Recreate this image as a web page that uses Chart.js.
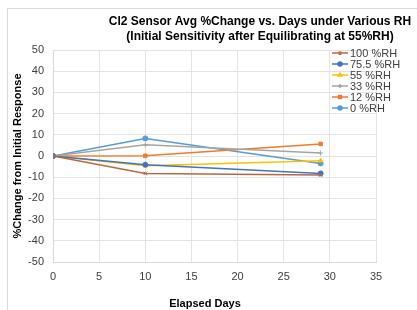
<!DOCTYPE html>
<html><head><meta charset="utf-8">
<script src="https://cdn.jsdelivr.net/npm/chart.js@4"></script>
<style>html,body{margin:0;padding:0;background:#fff}#wrap{width:417px;height:310px;position:relative}</style>
</head><body><div id="wrap"><canvas id="c" width="417" height="310"></canvas></div>
<script>
const days = [0, 10, 29];
const seriesNames = ["100 %RH", "75.5 %RH", "55 %RH", "33 %RH", "12 %RH", "0 %RH"];
const rh100 = [0, -8.2, -9.0];
const rh75 = [0, -4.1, -8.2];
const rh55 = [0, -4.6, -2.2];
const rh33 = [0, 5.3, 1.4];
const rh12 = [0, 0.1, 5.7];
const rh0 = [0, 8.3, -3.5];
const xTicks = [0, 5, 10, 15, 20, 25, 30, 35];
const yTicks = [50, 40, 30, 20, 10, 0, -10, -20, -30, -40, -50];
const titleLines = ["Cl2 Sensor Avg %Change vs. Days under Various RH", "(Initial Sensitivity after Equilibrating at 55%RH)"];
const xTitle = "Elapsed Days";
const yTitle = "%Change from Initial Response";

const colors = ["#B8683F", "#4472C4", "#FFC000", "#A5A5A5", "#ED7D31", "#5B9BD5"];
const markers = ["crossRot", "circle", "triangle", "cross", "rect", "circle"];
const values = [rh100, rh75, rh55, rh33, rh12, rh0];

const datasets = seriesNames.map((n, i) => ({
  label: n,
  data: days.map((d, j) => ({x: d, y: values[i][j]})),
  borderColor: colors[i],
  backgroundColor: colors[i],
  borderWidth: 1.5,
  pointStyle: markers[i],
  pointRadius: 2.5,
  pointBorderWidth: 1,
  showLine: true,
  tension: 0
}));

const FONT = "'Liberation Sans', Arial, sans-serif";

const deco = {
  id: 'deco',
  beforeDraw(chart) {
    const ctx = chart.ctx;
    ctx.save();
    ctx.fillStyle = '#fff';
    ctx.fillRect(0, 0, 417, 310);
    ctx.strokeStyle = '#d9d9d9';
    ctx.lineWidth = 1;
    ctx.strokeRect(7.5, 8.5, 600, 400);
    ctx.restore();
  },
  afterDraw(chart) {
    const ctx = chart.ctx;
    ctx.save();
    ctx.fillStyle = '#000';
    ctx.textAlign = 'center';
    ctx.textBaseline = 'middle';
    ctx.font = 'bold 12px ' + FONT;
    ctx.fillText(titleLines[0], 260, 22);
    ctx.fillText(titleLines[1], 260, 37);
    ctx.font = 'bold 11px ' + FONT;
    ctx.fillText(xTitle, 205, 304);
    ctx.save();
    ctx.translate(18, 156);
    ctx.rotate(-Math.PI / 2);
    ctx.fillText(yTitle, 0, 0);
    ctx.restore();
    // legend
    ctx.font = '11px ' + FONT;
    ctx.textAlign = 'left';
    const ys = [53, 64, 75, 86, 97, 108];
    chart.data.datasets.forEach((ds, i) => {
      const y = ys[i];
      ctx.strokeStyle = ds.borderColor;
      ctx.lineWidth = 1.5;
      ctx.beginPath(); ctx.moveTo(332, y); ctx.lineTo(348, y); ctx.stroke();
      Chart.helpers.drawPoint(ctx, {pointStyle: ds.pointStyle, radius: 2, borderWidth: 1}, 340, y);
      ctx.fillStyle = ds.backgroundColor;
      ctx.fill();
      ctx.fillStyle = '#404040';
      ctx.fillText(ds.label, 350, y + 0.5);
    });
    ctx.restore();
  }
};

new Chart(document.getElementById('c'), {
  type: 'scatter',
  data: {datasets},
  options: {
    responsive: false,
    animation: false,
    layout: {padding: {left: 0, top: 50, right: 41, bottom: 0}},
    plugins: {legend: {display: false}, title: {display: false}, tooltip: {enabled: false}},
    scales: {
      x: {
        type: 'linear', min: 0, max: 35,
        afterFit(s) { s.height = 48; },
        afterBuildTicks(s) { s.ticks = xTicks.map(v => ({value: v})); },
        grid: {color: '#e3e3e3', drawTicks: false},
        border: {color: '#d9d9d9'},
        ticks: {padding: 8, color: '#404040', font: {family: FONT, size: 11}}
      },
      y: {
        type: 'linear', min: -50, max: 50,
        afterFit(s) { s.width = 53; },
        afterBuildTicks(s) { s.ticks = yTicks.map(v => ({value: v})); },
        grid: {color: '#e3e3e3', drawTicks: false},
        border: {color: '#d9d9d9'},
        ticks: {padding: 9, color: '#404040', font: {family: FONT, size: 11}}
      }
    }
  },
  plugins: [deco]
});
</script></body></html>
